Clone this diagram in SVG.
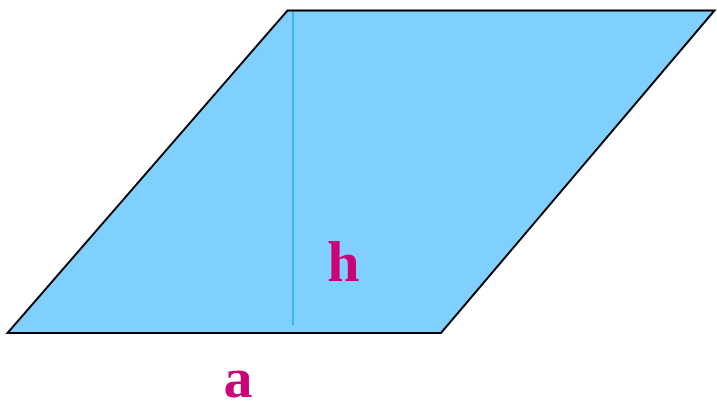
<svg xmlns="http://www.w3.org/2000/svg" width="717" height="404" viewBox="0 0 717 404">
<style>
.lbl{font-family:"Liberation Serif","Times New Roman",serif;font-weight:bold;font-size:58px;fill:#CC0077}
</style>
<rect width="717" height="404" fill="#FFFFFF"/>
<g id="parallelogram">
<polygon points="7.5,333 441,333 714.5,10.5 287.5,10.5" fill="#80D0FF" stroke="#000000" stroke-width="2"/>
</g>
<g id="height">
<line x1="293" y1="12" x2="293" y2="325" stroke="#33B5F0" stroke-width="2"/>
</g>
<g id="labels">
<text class="lbl" x="343.5" y="281" text-anchor="middle">h</text>
<text class="lbl" x="238" y="397" text-anchor="middle">a</text>
</g>
</svg>
